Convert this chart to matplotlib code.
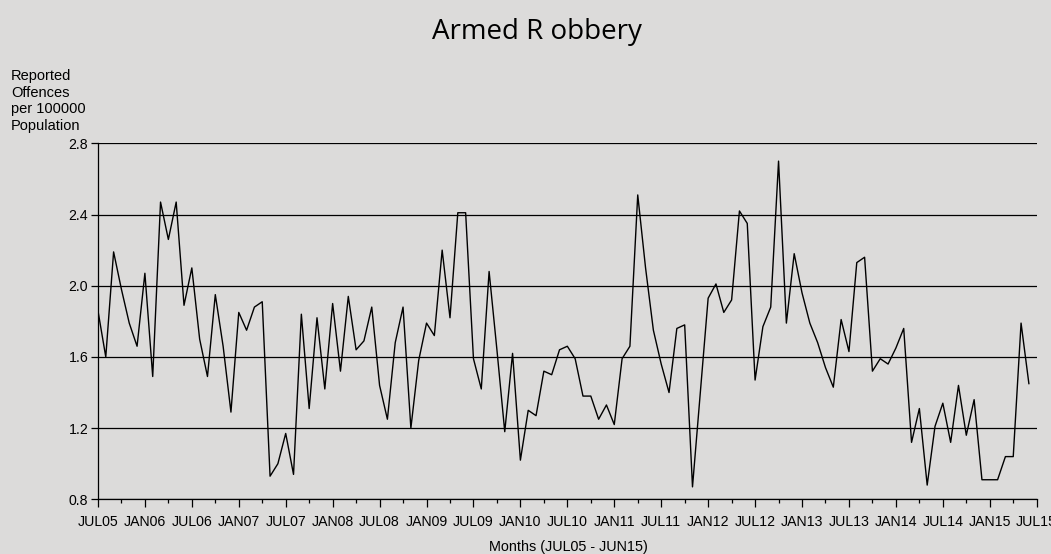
import numpy as np
import matplotlib
matplotlib.use("Agg")
import matplotlib.pyplot as plt

# monthly rate, JUL05 .. JUN15
rate = [1.86, 1.60, 2.19, 1.98, 1.79, 1.66, 2.07, 1.49, 2.47, 2.26,
        2.47, 1.89, 2.10, 1.70, 1.49, 1.95, 1.66, 1.29, 1.85, 1.75,
        1.88, 1.91, 0.93, 1.00, 1.17, 0.94, 1.84, 1.31, 1.82, 1.42,
        1.90, 1.52, 1.94, 1.64, 1.69, 1.88, 1.44, 1.25, 1.68, 1.88,
        1.20, 1.58, 1.79, 1.72, 2.20, 1.82, 2.41, 2.41, 1.59, 1.42,
        2.08, 1.64, 1.18, 1.62, 1.02, 1.30, 1.27, 1.52, 1.50, 1.64,
        1.66, 1.59, 1.38, 1.38, 1.25, 1.33, 1.22, 1.59, 1.66, 2.51,
        2.10, 1.75, 1.56, 1.40, 1.76, 1.78, 0.87, 1.40, 1.93, 2.01,
        1.85, 1.92, 2.42, 2.35, 1.47, 1.77, 1.88, 2.70, 1.79, 2.18,
        1.96, 1.79, 1.68, 1.54, 1.43, 1.81, 1.63, 2.13, 2.16, 1.52,
        1.59, 1.56, 1.65, 1.76, 1.12, 1.31, 0.88, 1.21, 1.34, 1.12,
        1.44, 1.16, 1.36, 0.91, 0.91, 0.91, 1.04, 1.04, 1.79, 1.45]
tick_labels = ["JUL05", "JAN06", "JUL06", "JAN07", "JUL07", "JAN08", "JUL08",
               "JAN09", "JUL09", "JAN10", "JUL10", "JAN11", "JUL11", "JAN12",
               "JUL12", "JAN13", "JUL13", "JAN14", "JUL14", "JAN15", "JUL15"]
y_ticks = [0.8, 1.2, 1.6, 2.0, 2.4, 2.8]

bg = "#dcdbda"
font = ["Liberation Sans", "DejaVu Sans"]
plt.rcParams["font.family"] = font

fig = plt.figure(figsize=(10.51, 5.54), dpi=100, facecolor=bg)
ax = fig.add_axes([0.0932, 0.0987, 0.8932, 0.6426], facecolor=bg)

months = np.arange(len(rate))
ax.plot(months, rate, color="black", lw=1.0)

ax.set_xlim(0, 120)
ax.set_ylim(0.8, 2.8)
ax.set_yticks(y_ticks)
ax.set_yticklabels([f"{v:.1f}" for v in y_ticks])
ax.set_xticks(np.arange(0, 121, 6))
ax.set_xticklabels(tick_labels)
ax.set_xticks(np.arange(3, 121, 6), minor=True)
ax.tick_params(axis="x", which="major", length=6, width=0.9, pad=5, labelsize=10.2)
ax.tick_params(axis="x", which="minor", length=3, width=0.9)
ax.tick_params(axis="y", length=5, width=0.9, pad=2, labelsize=10.2)

ax.grid(axis="y", color="black", lw=0.9)
ax.set_axisbelow(True)
for s in ["top", "right"]:
    ax.spines[s].set_visible(False)
for s in ["left", "bottom"]:
    ax.spines[s].set_linewidth(0.9)

fig.text(0.5105, 1 - 38.5 / 554, "Armed R obbery", ha="center", va="baseline",
         fontsize=20, family=["Open Sans", "DejaVu Sans"])
fig.text(11 / 1051, 1 - 69 / 554, "Reported\nOffences\nper 100000\nPopulation",
         ha="left", va="top", fontsize=10.5, linespacing=1.25)
fig.text(568 / 1051, 1 - 551 / 554, "Months (JUL05 - JUN15)", ha="center",
         va="baseline", fontsize=10.4)

fig.savefig("out.png", dpi=100, facecolor=bg)
